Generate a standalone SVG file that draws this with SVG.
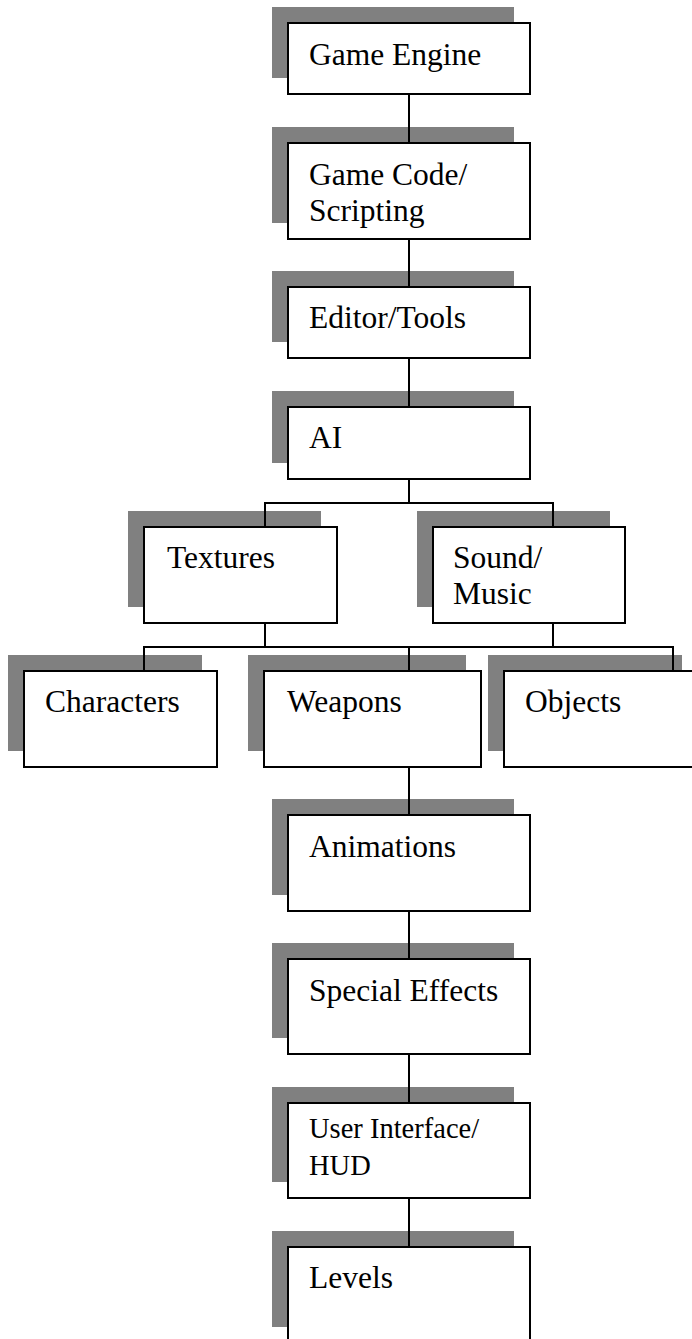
<svg xmlns="http://www.w3.org/2000/svg" width="692" height="1339" viewBox="0 0 692 1339">
<style>
.sh{fill:#808080;stroke:none}
.bx{fill:#fff;stroke:#000;stroke-width:2}
.t{font-family:"Liberation Serif","Times New Roman",serif;font-size:31.5px;fill:#000}
.ts{font-family:"Liberation Serif","Times New Roman",serif;font-size:28.5px;fill:#000}
.c{fill:none;stroke:#000;stroke-width:2}
</style>
<rect width="692" height="1339" fill="#fff"/>
<g id="game-engine"><rect class="sh" x="272" y="7" width="242" height="71"/><rect class="bx" x="288" y="23" width="242" height="71"/><text class="t" x="309" y="65">Game Engine</text></g>
<g id="game-code"><rect class="sh" x="272" y="127" width="242" height="96"/><rect class="bx" x="288" y="143" width="242" height="96"/><text class="t" x="309" y="185">Game Code/</text><text class="t" x="309" y="221">Scripting</text></g>
<g id="editor-tools"><rect class="sh" x="272" y="271" width="242" height="71"/><rect class="bx" x="288" y="287" width="242" height="71"/><text class="t" x="309" y="328">Editor/Tools</text></g>
<g id="ai"><rect class="sh" x="272" y="391" width="242" height="72"/><rect class="bx" x="288" y="407" width="242" height="72"/><text class="t" x="309" y="448">AI</text></g>
<g id="textures"><rect class="sh" x="128" y="511" width="193" height="96"/><rect class="bx" x="144" y="527" width="193" height="96"/><text class="t" x="167" y="568">Textures</text></g>
<g id="sound-music"><rect class="sh" x="417" y="511" width="193" height="96"/><rect class="bx" x="433" y="527" width="192" height="96"/><text class="t" x="453" y="568">Sound/</text><text class="t" x="453" y="604">Music</text></g>
<g id="characters"><rect class="sh" x="8" y="655" width="194" height="96"/><rect class="bx" x="24" y="671" width="193" height="96"/><text class="t" x="45" y="712">Characters</text></g>
<g id="weapons"><rect class="sh" x="248" y="655" width="218" height="96"/><rect class="bx" x="264" y="671" width="217" height="96"/><text class="t" x="287" y="712">Weapons</text></g>
<g id="objects"><rect class="sh" x="488" y="655" width="194" height="96"/><rect class="bx" x="504" y="671" width="194" height="96"/><text class="t" x="525" y="712">Objects</text></g>
<g id="animations"><rect class="sh" x="272" y="799" width="242" height="96"/><rect class="bx" x="288" y="815" width="242" height="96"/><text class="t" x="309" y="857">Animations</text></g>
<g id="special-effects"><rect class="sh" x="272" y="943" width="242" height="95"/><rect class="bx" x="288" y="959" width="242" height="95"/><text class="t" x="309" y="1001">Special Effects</text></g>
<g id="user-interface"><rect class="sh" x="272" y="1087" width="242" height="95"/><rect class="bx" x="288" y="1103" width="242" height="95"/><text class="ts" x="309" y="1138">User Interface/</text><text class="ts" x="309" y="1175">HUD</text></g>
<g id="levels"><rect class="sh" x="272" y="1231" width="242" height="96"/><rect class="bx" x="288" y="1247" width="242" height="96"/><text class="t" x="309" y="1288">Levels</text></g>
<g id="connectors">
<path class="c" d="M409 94V143M409 239V287M409 358V407M409 479V503"/>
<path class="c" d="M265 527V503H553V527"/>
<path class="c" d="M265 623V647M553 623V647"/>
<path class="c" d="M144 671V647H673V671M409 647V671"/>
<path class="c" d="M409 767V815M409 911V959M409 1054V1103M409 1198V1247"/>
</g>
</svg>
